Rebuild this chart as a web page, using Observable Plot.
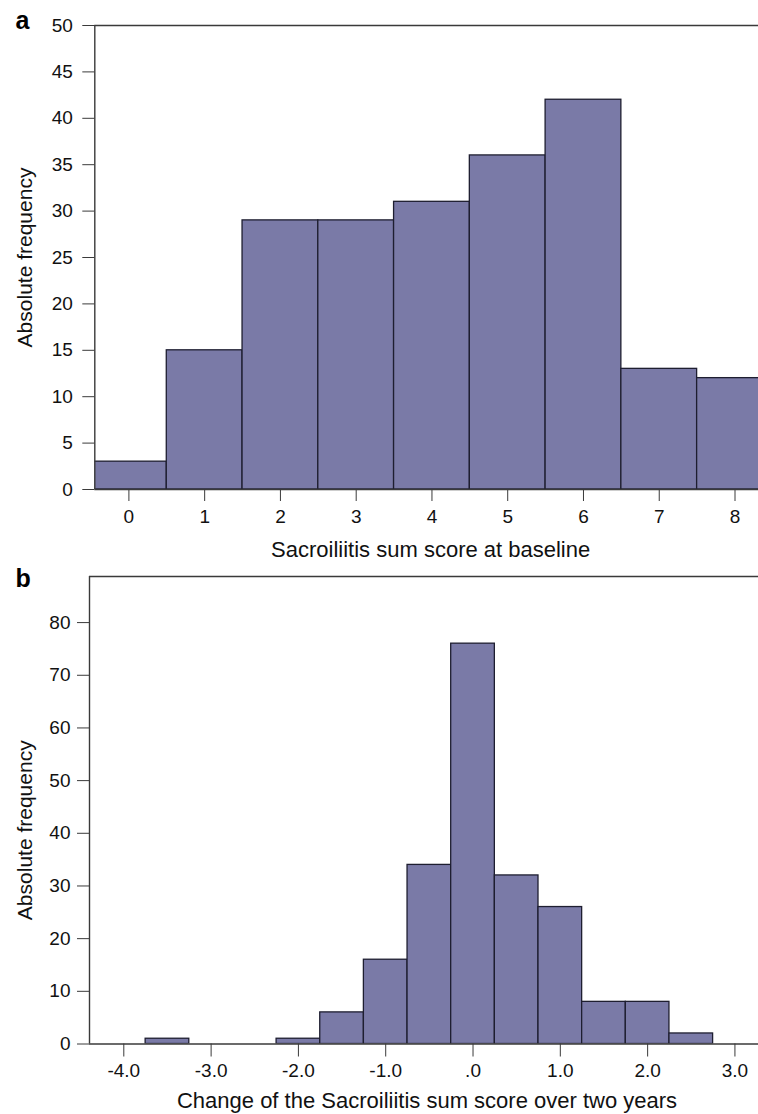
<!DOCTYPE html>
<html>
<head>
<meta charset="utf-8">
<script src="https://cdn.jsdelivr.net/npm/d3@7"></script>
<script src="https://cdn.jsdelivr.net/npm/@observablehq/plot@0.6"></script>
<style>
  html, body { margin: 0; padding: 0; background: #fff; }
  svg { display: block; }
</style>
</head>
<body>
<div id="chart"></div>
<script>
// Panel a: Sacroiliitis sum score at baseline
const scoreA = [0, 1, 2, 3, 4, 5, 6, 7, 8];
const freqA = [3, 15, 29, 29, 31, 36, 42, 13, 12];
const xTicksA = [0, 1, 2, 3, 4, 5, 6, 7, 8];
const yTicksA = [0, 5, 10, 15, 20, 25, 30, 35, 40, 45, 50];

// Panel b: change over two years (bins of width 0.5)
const changeB = [-3.5, -2.0, -1.5, -1.0, -0.5, 0.0, 0.5, 1.0, 1.5, 2.0, 2.5];
const freqB = [1, 1, 6, 16, 34, 76, 32, 26, 8, 8, 2];
const xTicksB = [-4, -3, -2, -1, 0, 1, 2, 3];
const xTickLabelsB = ["-4.0", "-3.0", "-2.0", "-1.0", ".0", "1.0", "2.0", "3.0"];
const yTicksB = [0, 10, 20, 30, 40, 50, 60, 70, 80];

const binA = 1, binB = 0.5;
const dataA = scoreA.map((s, i) => ({x1: s - binA / 2, x2: s + binA / 2, f: freqA[i]}));
const dataB = changeB.map((c, i) => ({x1: c - binB / 2, x2: c + binB / 2, f: freqB[i]}));

const FONT = "'Liberation Sans', Arial, Helvetica, sans-serif";
const FILL = "#7a7aa7";
const EDGE = "#1e1e30";
const LINE = "#3a3a3a";

const domA = [-0.45, 8.31], domAy = [0, 50];
const domB = [-4.393, 3.27], domBy = [0, 88.75];

const plotA = Plot.plot({
  width: 758, height: 572,
  marginLeft: 94.3, marginRight: 0, marginTop: 25, marginBottom: 83,
  style: {fontFamily: FONT, fontSize: "19px", background: "#fff", color: "#111"},
  x: {domain: domA},
  y: {domain: domAy},
  marks: [
    Plot.rectY(dataA, {x1: "x1", x2: "x2", y1: 0, y2: "f", fill: FILL, stroke: EDGE, strokeWidth: 1.3, clip: true}),
    Plot.ruleY([domAy[0]], {stroke: LINE, strokeWidth: 1.4}),
    Plot.ruleY([domAy[1]], {stroke: LINE, strokeWidth: 1.4}),
    Plot.ruleX([domA[0]], {stroke: LINE, strokeWidth: 1.4}),
    Plot.axisY({ticks: yTicksA, tickSize: 12, tickPadding: 10, stroke: LINE, fill: "#111", fontSize: 19, label: null}),
    Plot.axisX({ticks: xTicksA, tickSize: 12, tickPadding: 8, stroke: LINE, fill: "#111", fontSize: 19, label: null}),
    Plot.text(["Absolute frequency"], {frameAnchor: "left", rotate: -90, dx: -69.3, dy: 0, lineAnchor: "middle", textAnchor: "middle", fontSize: 21, fill: "#111"}),
    Plot.text(["Sacroiliitis sum score at baseline"], {frameAnchor: "bottom", dx: 4, dy: 60.5, lineAnchor: "middle", textAnchor: "middle", fontSize: 22, fill: "#111"}),
    Plot.text(["a"], {frameAnchor: "top-left", dx: -79.3, dy: -5, lineAnchor: "middle", textAnchor: "start", fontSize: 25, fontWeight: "bold", fill: "#000"})
  ]
});

const plotB = Plot.plot({
  width: 758, height: 564,
  marginLeft: 89, marginRight: 0, marginTop: 26, marginBottom: 70.5,
  style: {fontFamily: FONT, fontSize: "19px", background: "transparent", color: "#111", marginTop: "-22px", position: "relative"},
  x: {domain: domB},
  y: {domain: domBy},
  marks: [
    Plot.rectY(dataB, {x1: "x1", x2: "x2", y1: 0, y2: "f", fill: FILL, stroke: EDGE, strokeWidth: 1.3, clip: true}),
    Plot.ruleY([domBy[0]], {stroke: LINE, strokeWidth: 1.4}),
    Plot.ruleY([domBy[1]], {stroke: LINE, strokeWidth: 1.4}),
    Plot.ruleX([domB[0]], {stroke: LINE, strokeWidth: 1.4}),
    Plot.axisY({ticks: yTicksB, tickSize: 12, tickPadding: 7, stroke: LINE, fill: "#111", fontSize: 19, label: null}),
    Plot.axisX({ticks: xTicksB, tickFormat: d => xTickLabelsB[xTicksB.indexOf(d)], tickSize: 13, tickPadding: 6.5, stroke: LINE, fill: "#111", fontSize: 19, label: null}),
    Plot.text(["Absolute frequency"], {frameAnchor: "left", rotate: -90, dx: -64, dy: 20, lineAnchor: "middle", textAnchor: "middle", fontSize: 21, fill: "#111"}),
    Plot.text(["Change of the Sacroiliitis sum score over two years"], {frameAnchor: "bottom", dx: 3, dy: 57, lineAnchor: "middle", textAnchor: "middle", fontSize: 22, fill: "#111"}),
    Plot.text(["b"], {frameAnchor: "top-left", dx: -74, dy: 2, lineAnchor: "middle", textAnchor: "start", fontSize: 25, fontWeight: "bold", fill: "#000"})
  ]
});

const root = document.getElementById("chart");
root.appendChild(plotA);
root.appendChild(plotB);
</script>
</body>
</html>
